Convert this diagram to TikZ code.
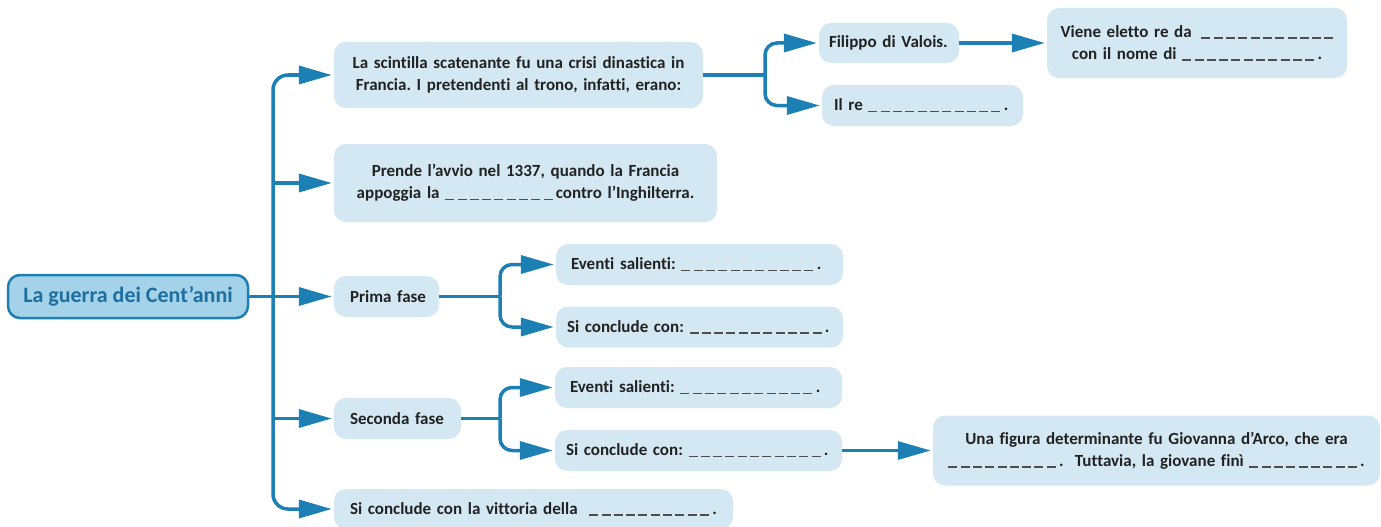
\documentclass[tikz,border=0pt]{standalone}
\usepackage{fontspec}
\setmainfont{Carlito}[Ligatures={NoCommon,NoRequired,NoContextual}]
\usetikzlibrary{arrows.meta}
\definecolor{lblue}{HTML}{1C80B4}
\definecolor{bfill}{HTML}{D3E8F3}
\definecolor{rfill}{HTML}{A3D2E9}
\definecolor{rtext}{HTML}{1D6FA0}
\definecolor{txt}{HTML}{222222}
\newcommand\blk[1]{\foreach \i in {1,...,#1}{\textcolor{txt!80}{\rule[-1.5pt]{9pt}{1.3pt}}\hspace{3.3pt}}}
\frenchspacing
\begin{document}
\begin{tikzpicture}[x=1pt,y=-1pt,
 box/.style={fill=bfill, rounded corners=12pt, inner xsep=0pt, inner ysep=0pt, text=txt,
   font=\bfseries\fontsize{17}{22}\selectfont},
 conn/.style={draw=lblue, line width=3.5pt},
 arr/.style={conn, -{Triangle[length=33pt,width=18pt]}, shorten >=2pt},
]
\useasboundingbox (0,0) rectangle (1381,527);
% root
\node[draw=lblue, line width=2.5pt, fill=rfill, rounded corners=12pt, minimum width=240,
  minimum height=43, text=rtext, font=\bfseries\fontsize{22}{26}\selectfont] (root) at (128,296.5) {La guerra dei Cent’anni};
% first level
\node[box, text width=369pt, minimum height=66, align=center] (A) at (518.5,75)
  {La scintilla scatenante fu una crisi dinastica in\\ Francia. I pretendenti al trono, infatti, erano:};
\node[box, text width=383pt, minimum height=78, align=center] (B) at (525.5,183)
  {Prende l’avvio nel 1337, quando la Francia\\ appoggia la \blk{9}contro l’Inghilterra.};
\node[box, text width=105pt, minimum height=41, align=left] (C) at (386.5,296.5)
  {\hspace*{16pt}Prima fase};
\node[box, text width=127pt, minimum height=41, align=left] (D) at (397.5,418.5)
  {\hspace*{16pt}Seconda fase};
\node[box, text width=399pt, minimum height=40, align=left] (E) at (533.5,509)
  {\hspace*{16pt}Si conclude con la vittoria della \hspace{6pt}\blk{10}.};
% second level
\node[box, text width=140pt, minimum height=40, align=left] (F) at (889,43)
  {\hspace*{10pt}Filippo di Valois.};
\node[box, text width=201pt, minimum height=41, align=left] (G) at (922.5,105.5)
  {\hspace*{12pt}Il re \blk{11}.};
\node[box, text width=300pt, minimum height=70, align=center] (H) at (1197,43)
  {Viene eletto re da \hspace{4pt}\blk{11}\\ con il nome di \blk{11}.};
\node[box, text width=287pt, minimum height=41, align=left] (I) at (699.5,264.5)
  {\hspace*{15pt}Eventi salienti: \blk{11}.};
\node[box, text width=287pt, minimum height=41, align=left] (J) at (699.5,327)
  {\hspace*{11pt}Si conclude con: \blk{11}.};
\node[box, text width=287pt, minimum height=41, align=left] (K) at (698.5,387.5)
  {\hspace*{15pt}Eventi salienti: \blk{11}.};
\node[box, text width=287pt, minimum height=41, align=left] (L) at (698.5,450.5)
  {\hspace*{11pt}Si conclude con: \blk{11}.};
\node[box, text width=447pt, minimum height=70, align=center] (M) at (1156.5,450.5)
  {Una figura determinante fu Giovanna d’Arco, che era\\ \blk{9}.\ \ Tuttavia, la giovane finì \blk{9}.};
% connectors
\coordinate (tr) at (273,0);
\coordinate (ba) at (765,0);
\coordinate (bc) at (500,0);
\draw[arr] (root.east) -- (C.west);
\draw[arr, rounded corners=15pt] (root.east -| tr) |- (A.west);
\draw[arr] (B.west -| tr) -- (B.west);
\draw[arr] (D.west -| tr) -- (D.west);
\draw[arr, rounded corners=15pt] (root.east -| tr) |- (E.west);
\draw[conn] (A.east) -- (A.east -| ba);
\draw[arr, rounded corners=12pt] (A.east -| ba) |- (F.west);
\draw[arr, rounded corners=12pt] (A.east -| ba) |- (G.west);
\draw[arr] (F.east) -- (H.west);
\draw[conn] (C.east) -- (C.east -| bc);
\draw[arr, rounded corners=12pt] (C.east -| bc) |- (I.west);
\draw[arr, rounded corners=12pt] (C.east -| bc) |- (J.west);
\draw[conn] (D.east) -- (D.east -| bc);
\draw[arr, rounded corners=12pt] (D.east -| bc) |- (K.west);
\draw[arr, rounded corners=12pt] (D.east -| bc) |- (L.west);
\draw[arr] (L.east) -- (M.west);
\end{tikzpicture}
\end{document}
